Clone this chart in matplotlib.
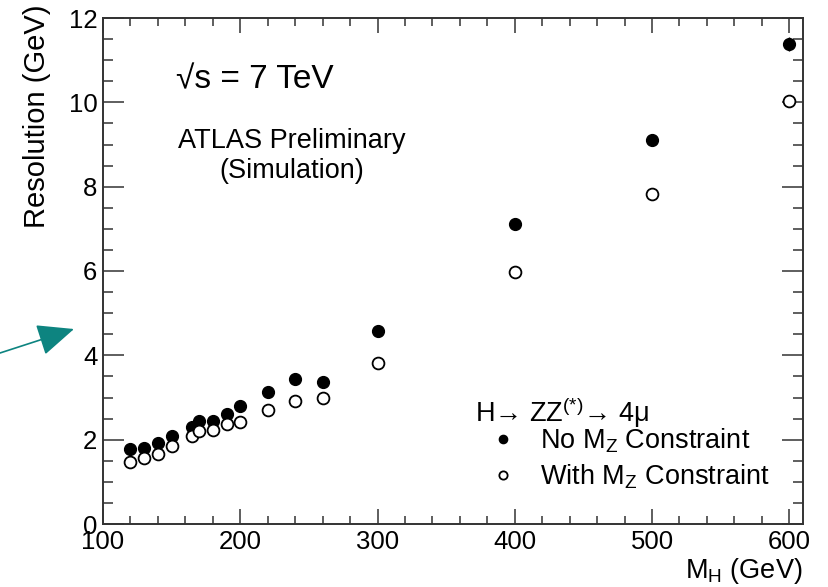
import numpy as np
import matplotlib
matplotlib.use("Agg")
import matplotlib.pyplot as plt
from matplotlib.ticker import MultipleLocator

plt.rcParams['font.family'] = ['Liberation Sans', 'DejaVu Sans']
plt.rcParams['mathtext.fontset'] = 'custom'
plt.rcParams['mathtext.rm'] = 'Liberation Sans'
plt.rcParams['mathtext.it'] = 'Liberation Sans'
plt.rcParams['mathtext.bf'] = 'Liberation Sans:bold'

# Higgs mass points (GeV)
mass = [120, 130, 140, 150, 165, 170, 180, 190, 200, 220, 240, 260, 300, 400, 500, 600]
# resolution without the Z mass constraint
res_no_mz = [1.77, 1.81, 1.91, 2.09, 2.30, 2.45, 2.45, 2.62, 2.79, 3.12, 3.43, 3.36, 4.57, 7.11, 9.11, 11.38]
err_no_mz = [0.02, 0.02, 0.02, 0.02, 0.02, 0.02, 0.02, 0.02, 0.03, 0.03, 0.04, 0.04, 0.05, 0.06, 0.13, 0.16]
# resolution with the Z mass constraint
res_mz = [1.48, 1.57, 1.65, 1.85, 2.08, 2.20, 2.22, 2.38, 2.42, 2.70, 2.91, 2.99, 3.81, 5.98, 7.82, 10.03]
err_mz = [0.02, 0.02, 0.02, 0.02, 0.02, 0.02, 0.02, 0.02, 0.03, 0.03, 0.03, 0.04, 0.05, 0.05, 0.08, 0.13]

labels = [r'No M$_\mathrm{Z}$ Constraint', r'With M$_\mathrm{Z}$ Constraint']
legend_title = r'H→ ZZ$^{(*)}$→ 4μ'

fig = plt.figure(figsize=(8.29, 5.87), dpi=100)
W, H = 829, 587
ax = fig.add_axes([103 / W, (H - 524) / H, 700 / W, 506 / H])

eb1 = ax.errorbar(mass, res_no_mz, yerr=err_no_mz, fmt='o', ms=8.5, color='black',
                  mfc='black', mec='black', elinewidth=1, capsize=0)
eb2 = ax.errorbar(mass, res_mz, yerr=err_mz, fmt='o', ms=8.5, color='black',
                  mfc='white', mec='black', mew=1.3, elinewidth=1, capsize=0)

ax.set_xlim(100, 610)
ax.set_ylim(0, 12)
ax.xaxis.set_major_locator(MultipleLocator(100))
ax.xaxis.set_minor_locator(MultipleLocator(20))
ax.yaxis.set_major_locator(MultipleLocator(2))
ax.yaxis.set_minor_locator(MultipleLocator(0.5))
ax.tick_params(which='both', direction='in', top=True, right=True, width=1.1, color='#333333')
ax.tick_params(axis='y', which='major', length=15, labelsize=18.5, pad=4)
ax.tick_params(axis='y', which='minor', length=7.5)
ax.tick_params(axis='x', which='major', length=11, labelsize=18.5, pad=4)
ax.tick_params(axis='x', which='minor', length=6)
for sp in ax.spines.values():
    sp.set_linewidth(1.4)
    sp.set_color('#333333')

fig.text(37 / W, 1 - 5 / H, 'Resolution (GeV)', rotation=90, ha='center', va='top', fontsize=21)
fig.text(803 / W, 1 - 586 / H, r'M$_\mathrm{H}$ (GeV)', ha='right', va='bottom', fontsize=19.5)

ax.text(0.105, 0.878, '\u221as = 7 TeV', transform=ax.transAxes, fontsize=24, va='center', ha='left')
ax.text(0.27, 0.727, 'ATLAS Preliminary\n(Simulation)', transform=ax.transAxes, fontsize=19.5,
        ha='center', va='center', linespacing=1.2)

ax.text(0.531, 0.219, legend_title, transform=ax.transAxes, fontsize=19.5, ha='left', va='center')
leg = ax.legend([eb1.lines[0], eb2.lines[0]], labels, loc='upper left',
                bbox_to_anchor=(0.533, 0.192), frameon=False, fontsize=19.5,
                handlelength=2.0, handletextpad=0.35, labelspacing=0.25,
                markerscale=0.7, borderaxespad=0, borderpad=0)

ax.annotate('', xy=(74 / W, 1 - 329 / H), xytext=(0, 1 - 353 / H), xycoords='figure fraction',
            textcoords='figure fraction',
            arrowprops=dict(arrowstyle='-|>,head_length=2.3,head_width=1.0', color='#0d8480', lw=1.2,
                            shrinkA=0, shrinkB=0))

fig.savefig('out.png', dpi=100)
